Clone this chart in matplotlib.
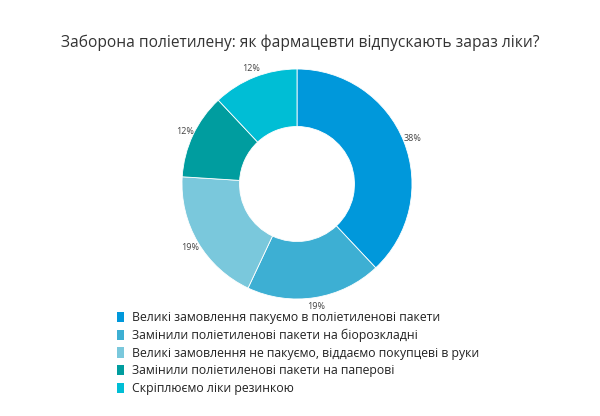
import matplotlib.pyplot as plt
from matplotlib.patches import Patch

plt.rcParams['font.family'] = ['Open Sans', 'DejaVu Sans']

# Дані
categories = [
    'Великі замовлення пакуємо в поліетиленові пакети',
    'Замінили поліетиленові пакети на біорозкладні',
    'Великі замовлення не пакуємо, віддаємо покупцеві в руки',
    'Замінили поліетиленові пакети на паперові',
    'Скріплюємо ліки резинкою',
]
values = [38, 19, 19, 12, 12]
colors = ['#0098db', '#3dafd3', '#7ac8dc', '#009d9f', '#00bed5']

fig = plt.figure(figsize=(6, 4.16), dpi=100)
fig.text(0.5, 1 - 43 / 416, 'Заборона поліетилену: як фармацевти відпускають зараз ліки?',
         ha='center', va='center', fontsize=11.2, color='#333333')

ax = fig.add_axes([182 / 600, 117 / 416, 230 / 600, 230 / 416])
wedges, texts, autotexts = ax.pie(
    values, colors=colors, startangle=90, counterclock=False,
    radius=1, wedgeprops=dict(width=0.5, edgecolor='white', linewidth=0.6),
    autopct='%d%%', pctdistance=1.08,
)
for t in autotexts:
    t.set_fontsize(6.5)
    t.set_color('#444444')
ax.set_xlim(-1, 1)
ax.set_ylim(-1, 1)
ax.set_aspect('equal')

handles = [Patch(facecolor=c, edgecolor='none') for c in colors]
fig.legend(handles, categories, loc='upper left', bbox_to_anchor=(117 / 600, 1 - 311 / 416),
           frameon=False, fontsize=8.8, handlelength=0.6, handleheight=0.9,
           handletextpad=0.6, labelspacing=0.38, borderaxespad=0, borderpad=0,
           labelcolor='#222222')

fig.savefig('out.png', dpi=100, facecolor='white')
